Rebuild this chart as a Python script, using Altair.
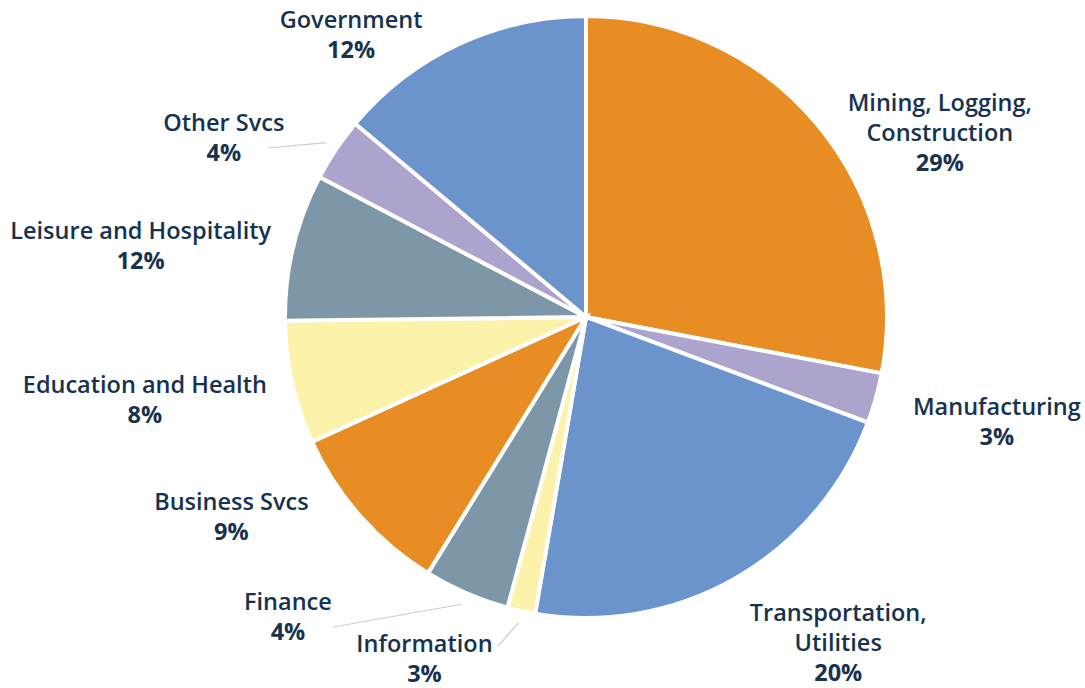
import math
import altair as alt
import pandas as pd

# ---- data ----
categories = ["Mining, Logging, Construction", "Manufacturing", "Transportation, Utilities",
              "Information", "Finance", "Business Svcs", "Education and Health",
              "Leisure and Hospitality", "Other Svcs", "Government"]
name_upper = ["Mining, Logging,", "", "Transportation,", "", "", "", "", "", "", ""]
name_last = ["Construction", "Manufacturing", "Utilities", "Information", "Finance",
             "Business Svcs", "Education and Health", "Leisure and Hospitality",
             "Other Svcs", "Government"]
shares = [28.0, 2.7, 22.0, 1.5, 4.6, 9.4, 6.6, 7.9, 3.4, 13.9]
pct_labels = ["29%", "3%", "20%", "3%", "4%", "9%", "8%", "12%", "4%", "12%"]
colors = ["#E88D24", "#ACA4CD", "#6B94CD", "#FDF2AA", "#7E97A8",
          "#E88D24", "#FDF2AA", "#7E97A8", "#ACA4CD", "#6B94CD"]

# ---- layout (label anchors, polar: degrees clockwise from 12 o'clock, pixels) ----
label_angle = [64.5, 104.3, 143.5, 205.3, 224.8, 240.6, 259.3, 279.1, 296.3, 320.2]
label_dist = [392, 424, 424, 378, 423, 407, 449, 451, 404, 367]
leader_for = {"Other Svcs": (298.0, 360), "Finance": (219.2, 400), "Information": (195.0, 341)}

W, H = 998, 634          # plot area; centre of pie = (W/2, H/2) after padding
PAD_L, PAD_T = 87, 0
R = 301
NAVY = "#17324F"
FONT = "Open Sans"
FS = 23.5

df = pd.DataFrame({
    "cat": categories,
    "upper": name_upper,
    "last": name_last,
    "share": shares,
    "pct": pct_labels,
    "order": list(range(len(categories))),
    "lab_theta": [math.radians(a) for a in label_angle],
    "lab_r": label_dist,
})

# leader lines: inner end at slice mid-angle just outside the pie
total = sum(shares)
cum = 0.0
mids = {}
for c, s in zip(categories, shares):
    mids[c] = (cum + s / 2) / total * 2 * math.pi
    cum += s
cx, cy = W / 2, H / 2
rows = []
for c, (ang, dist) in leader_for.items():
    a_in = mids[c]
    r_in = R + 12
    a_out = math.radians(ang)
    rows.append({
        "x": cx + r_in * math.sin(a_in), "y": cy - r_in * math.cos(a_in),
        "x2": cx + dist * math.sin(a_out), "y2": cy - dist * math.cos(a_out),
    })
leaders = pd.DataFrame(rows)

color_scale = alt.Scale(domain=categories, range=colors)

pie = alt.Chart(df).mark_arc(outerRadius=R, stroke="white", strokeWidth=4).encode(
    theta=alt.Theta("share:Q", stack=True),
    order=alt.Order("order:Q"),
    color=alt.Color("cat:N", scale=color_scale, legend=None),
)


def label_layer(field, weight, baseline, dy):
    return alt.Chart(df).mark_text(
        font=FONT, fontSize=FS, fontWeight=weight, color=NAVY, align="center",
        baseline=baseline, lineHeight=30, dy=dy,
    ).encode(
        theta=alt.Theta("lab_theta:Q", scale=None),
        radius=alt.Radius("lab_r:Q", scale=None),
        text=f"{field}:N",
    )


upper = label_layer("upper", 600, "bottom", -32)
last = label_layer("last", 600, "bottom", -2)
pcts = label_layer("pct", 700, "line-top", 1)

lines = alt.Chart(leaders).mark_rule(color="#CCCCCC", strokeWidth=1.2).encode(
    x=alt.X("x:Q", scale=None), y=alt.Y("y:Q", scale=None),
    x2="x2:Q", y2="y2:Q",
)

chart = alt.layer(pie, lines, upper, last, pcts).properties(
    width=W, height=H,
    autosize=alt.AutoSizeParams(type="none"),
    padding={"left": PAD_L, "top": PAD_T, "right": 1085 - PAD_L - W, "bottom": 688 - PAD_T - H},
    background="white",
).configure_view(stroke=None)

chart.save("out.html", embed_options={"renderer": "svg", "actions": False})
